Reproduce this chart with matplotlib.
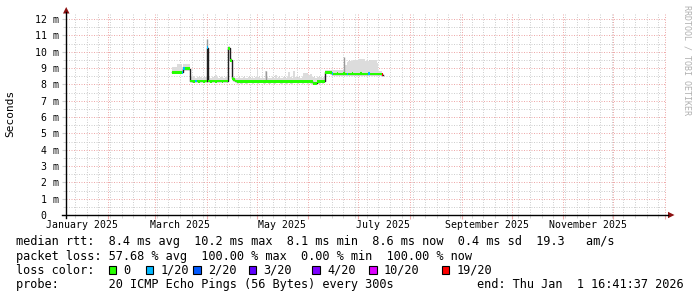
import numpy as np
import pandas as pd
import matplotlib
matplotlib.use("Agg")
import matplotlib.pyplot as plt
import matplotlib.dates as mdates
from matplotlib.patches import Polygon, Rectangle
from matplotlib.lines import Line2D
from matplotlib.ticker import MultipleLocator

# ---------------- data ----------------
graph_start = "2025-01-06 16:41:37"
graph_end = "2026-01-01 16:41:37"
first_day = "2025-03-11"

median_ms = [
    8.74, 8.74, 8.74, 8.74, 8.74, 8.74, 8.74,
    8.96, 8.96, 8.96, 8.96,
    8.20, 8.20, 8.19, 8.20, 8.20, 8.19, 8.20, 8.20, 8.19, 8.20,
    10.25,
    8.20, 8.19, 8.20, 8.20, 8.19, 8.20, 8.20, 8.20, 8.19, 8.20, 8.20, 8.20,
    10.20, 9.48, 8.37, 8.28, 8.20,
    8.17, 8.18, 8.17, 8.18, 8.18, 8.17, 8.18, 8.19, 8.18, 8.17,
    8.18, 8.18, 8.17, 8.18, 8.19, 8.18, 8.17, 8.18, 8.18, 8.17,
    8.18, 8.18, 8.17, 8.18, 8.19, 8.18, 8.17, 8.18, 8.18, 8.17,
    8.18, 8.18, 8.17, 8.18, 8.19, 8.18, 8.17, 8.18, 8.18, 8.17,
    8.18, 8.18, 8.17, 8.18, 8.17, 8.17,
    8.07, 8.06,
    8.17, 8.17, 8.18, 8.17, 8.18,
    8.74, 8.74, 8.73, 8.72,
    8.66,
    8.63, 8.63, 8.64, 8.63, 8.63, 8.63, 8.64, 8.63, 8.63, 8.63,
    8.63, 8.64, 8.63, 8.63, 8.63, 8.63, 8.64, 8.63, 8.63, 8.63,
    8.63, 8.64, 8.63, 8.63, 8.63, 8.63, 8.63, 8.63, 8.63,
    8.58,
]

# pings lost (of 20) per day
lost_pings = [
    0, 0, 0, 0, 0, 0, 1,
    1, 0, 0, 0,
    0, 0, 0, 1, 0, 0, 0, 0, 0, 0,
    1,
    0, 0, 0, 0, 0, 0, 0, 0, 0, 0, 0, 0,
    0, 0, 0, 0, 0,
    0, 0, 0, 0, 0, 0, 0, 0, 0, 0,
    0, 0, 0, 0, 0, 0, 0, 0, 0, 0,
    0, 0, 0, 0, 0, 0, 0, 0, 0, 0,
    0, 0, 0, 0, 0, 0, 0, 0, 0, 0,
    0, 0, 0, 0, 0, 0,
    0, 0,
    0, 0, 0, 0, 0,
    0, 0, 0, 0,
    1,
    0, 0, 0, 0, 0, 0, 0, 0, 1, 0,
    0, 0, 0, 0, 0, 0, 0, 0, 0, 0,
    0, 1, 0, 0, 0, 0, 0, 0, 0,
    19,
]

smoke_top_ms = [
    9.05, 9.05, 9.05, 9.22, 9.22, 9.22, 9.05,
    9.25, 9.25, 9.25, 9.25,
    8.45, 8.42, 8.48, 8.40, 8.44, 8.42, 8.46, 8.40, 8.43, 8.45,
    10.80,
    8.42, 8.40, 8.44, 8.42, 8.55, 8.42, 8.40, 8.45, 8.42, 8.40, 8.43, 8.42,
    10.35, 9.60, 8.50, 8.45, 8.40,
    8.40, 8.42, 8.38, 8.40, 8.44, 8.40, 8.38, 8.42, 8.40, 8.45,
    8.40, 8.42, 8.98, 8.45, 8.40, 8.42, 8.40, 8.84, 8.42, 8.40,
    8.38, 8.42, 8.40, 8.57, 8.40, 8.42, 8.38, 8.40, 8.42, 8.40,
    8.45, 8.78, 8.42, 8.40, 8.84, 8.45, 8.40, 8.42, 8.40, 8.45,
    8.68, 8.68, 8.68, 8.60, 8.65, 8.45,
    8.42, 8.40,
    8.45, 8.42, 8.44, 8.40, 8.45,
    8.88, 8.88, 8.85, 8.88,
    8.85,
    8.85, 8.88, 8.85, 8.85, 8.88, 8.85, 8.90, 9.20, 9.35, 9.40,
    9.40, 9.40, 9.50, 9.50, 9.50, 9.55, 9.55, 9.55, 9.55, 9.40,
    9.40, 9.40, 9.50, 9.50, 9.50, 9.50, 9.30, 8.80, 8.80,
    8.70,
]

dark_spike_days = ["2025-04-01", "2025-05-06", "2025-06-22"]
dark_spike_top_ms = [10.80, 8.84, 9.70]

loss_levels = [0, 1, 2, 3, 4, 10, 19]
loss_colors = ["#26ff00", "#00b8ff", "#0059ff", "#5e00ff", "#7e00ff", "#dd00ff", "#ff0000"]
loss_labels = ["0", "1/20", "2/20", "3/20", "4/20", "10/20", "19/20"]

y_ticks = list(range(0, 13))
y_tick_labels = [" 0  "] + ["%2d m" % v for v in range(1, 13)]
month_labels = ["January 2025", "March 2025", "May 2025", "July 2025",
                "September 2025", "November 2025"]
month_label_dates = ["2025-01-16", "2025-03-16", "2025-05-16", "2025-07-16",
                     "2025-09-16", "2025-11-16"]

legend_rows = [
    "median rtt:  8.4 ms avg  10.2 ms max  8.1 ms min  8.6 ms now  0.4 ms sd  19.3   am/s",
    "packet loss: 57.68 % avg  100.00 % max  0.00 % min  100.00 % now",
    "loss color:",
    "probe:       20 ICMP Echo Pings (56 Bytes) every 300s",
]
end_text = "end: Thu Jan  1 16:41:37 2026"

# ---------------- figure ----------------
W, H = 697, 297
fig = plt.figure(figsize=(W / 100, H / 100), dpi=100)
fig.patch.set_facecolor("white")


def fx(x):
    return x / W


def fy(y):
    return 1 - y / H


AX_L, AX_R, AX_T, AX_B = 66, 666, 13, 215
ax = fig.add_axes([fx(AX_L), fy(AX_B), (AX_R - AX_L) / W, (AX_B - AX_T) / H])
ax.set_facecolor("white")

x0 = mdates.date2num(pd.Timestamp(graph_start))
x1 = mdates.date2num(pd.Timestamp(graph_end))
ax.set_xlim(x0, x1)
ymax = (AX_B - AX_T) / ((AX_B - 19) / 12.0)
ax.set_ylim(0, ymax)

mono = "DejaVu Sans Mono"
MAJ = "#eeaaaa"
MIN = "#cfcfcf"

# grid
ax.xaxis.set_major_locator(mdates.MonthLocator(bymonthday=1))
ax.xaxis.set_minor_locator(mdates.WeekdayLocator(byweekday=mdates.SU))
ax.yaxis.set_major_locator(MultipleLocator(1))
ax.yaxis.set_minor_locator(MultipleLocator(0.5))
ax.grid(which="minor", color=MIN, lw=0.72, linestyle=(0, (1, 1.5)))
ax.grid(which="major", color=MAJ, lw=0.72, linestyle=(0, (1, 1.5)))
ax.set_axisbelow(True)
ax.set_yticks(y_ticks)
ax.set_yticklabels(y_tick_labels, fontfamily=mono, fontsize=7.1)
ax.tick_params(axis="y", which="major", length=3, color=MIN, pad=2.3)
ax.tick_params(axis="y", which="minor", length=2, color=MIN)
ax.tick_params(axis="x", which="major", length=3, color=MAJ, labelbottom=False)
ax.tick_params(axis="x", which="minor", length=2, color=MIN)
for s in ax.spines.values():
    s.set_visible(False)

# data positions
d0 = mdates.date2num(pd.Timestamp(first_day))
days = d0 + np.arange(len(median_ms))
xe = np.append(days, days[-1] + 1)
med = np.array(median_ms)
med_e = np.append(med, med[-1])
top_e = np.append(np.array(smoke_top_ms), smoke_top_ms[-1])

# smoke
ax.fill_between(xe, med_e - 0.04, top_e, step="post", color="#dcdcdc", lw=0, zorder=2)
for dd, tv in zip(dark_spike_days, dark_spike_top_ms):
    xd = mdates.date2num(pd.Timestamp(dd)) + 0.5
    i = int(round(xd - 0.5 - d0))
    ax.vlines(xd, med[i], tv, color="#9a9a9a", lw=1.0, zorder=2.5)

# median line
ax.step(xe, med_e, where="post", color="#202020", lw=1.0, zorder=3)

# loss-coloured bands
sw = 0.085
lost = np.array(lost_pings)
for lvl_i, (lv, col) in enumerate(zip(loss_levels, loss_colors)):
    lo_lim = loss_levels[lvl_i - 1] if lvl_i > 0 else -1
    m = (lost > lo_lim) & (lost <= lv)
    if m.any():
        ax.bar(days[m], 2 * sw, bottom=med[m] - sw, width=1.0, align="edge",
               color=col, lw=0, antialiased=False, zorder=4)

# month labels
for lab, dstr in zip(month_labels, month_label_dates):
    xd = mdates.date2num(pd.Timestamp(dstr))
    fig.text(fx(AX_L + (xd - x0) / (x1 - x0) * (AX_R - AX_L)), fy(228.3), lab,
             ha="center", va="baseline", fontfamily=mono, fontsize=7.1, color="#000000")

# axes lines + arrows
fig.add_artist(Line2D([fx(62), fx(668)], [fy(215), fy(215)], color="#000000", lw=1.0))
fig.add_artist(Line2D([fx(66), fx(66)], [fy(218), fy(12)], color="#000000", lw=1.0))
fig.add_artist(Polygon([(fx(63), fy(13.5)), (fx(69.5), fy(13.5)), (fx(66.2), fy(7))],
                       closed=True, color="#8b1010", lw=0))
fig.add_artist(Polygon([(fx(668), fy(211.8)), (fx(668), fy(218.2)), (fx(674.5), fy(215))],
                       closed=True, color="#8b1010", lw=0))

# axis title
fig.text(fx(10.5), fy(113.5), "Seconds", rotation=90, ha="center", va="center",
         fontfamily=mono, fontsize=8.0, color="#000000")

# watermark
fig.text(fx(687.5), fy(60), "RRDTOOL / TOBI OETIKER", rotation=-90, ha="center", va="center",
         fontfamily=mono, fontsize=6.0, color="#b0b0b0")

# legend text
row_base = [245.3, 259.6, 273.6, 287.8]
LFS = 8.52
for txt, yb in zip(legend_rows, row_base):
    fig.text(fx(16), fy(yb), txt, ha="left", va="baseline", fontfamily=mono,
             fontsize=LFS, color="#000000")
fig.text(fx(684), fy(row_base[3]), end_text, ha="right", va="baseline",
         fontfamily=mono, fontsize=LFS, color="#000000")

box_x = [108.5, 145.5, 193.5, 248.5, 312.0, 369.0, 441.5]
for bx, col, lab in zip(box_x, loss_colors, loss_labels):
    fig.add_artist(Rectangle((fx(bx), fy(273.5)), 7.5 / W, 8 / H, facecolor=col,
                             edgecolor="#000000", lw=0.8))
    fig.text(fx(bx + 15), fy(row_base[2]), lab, ha="left", va="baseline",
             fontfamily=mono, fontsize=LFS, color="#000000")

fig.savefig("out.png", dpi=100, facecolor="white")
